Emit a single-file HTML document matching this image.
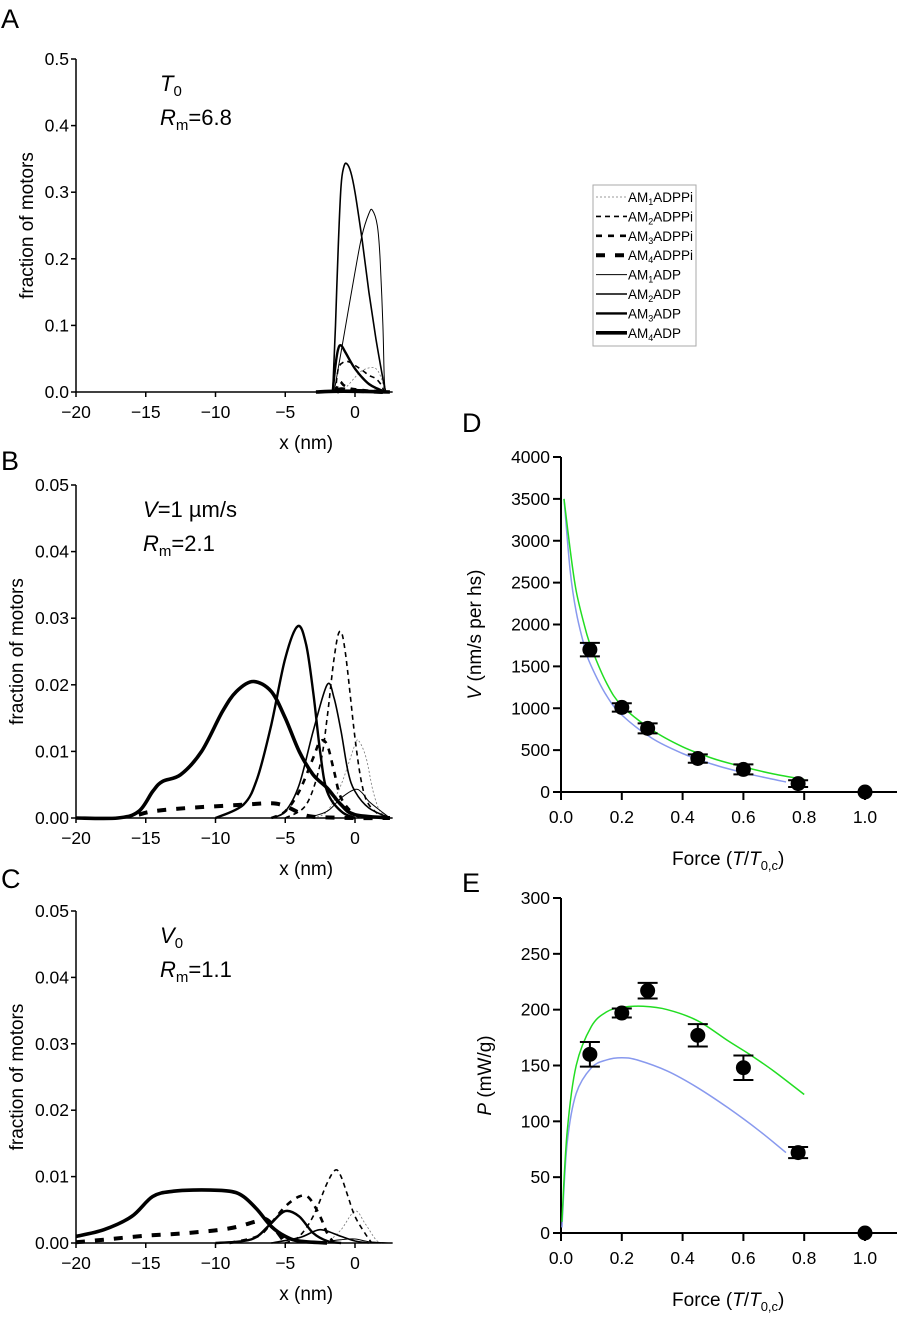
<!DOCTYPE html>
<html><head><meta charset="utf-8">
<style>
html,body{margin:0;padding:0;background:#fff;}
svg{display:block;font-family:"Liberation Sans",sans-serif;}
</style></head>
<body>
<svg id="fig" width="899" height="1318" viewBox="0 0 899 1318" xmlns="http://www.w3.org/2000/svg">
<g id="root"></g>
</svg>
<script>
// ---------- data: distribution panels (x in nm, y fraction) ----------
const seriesNames = ["AM1ADPPi","AM2ADPPi","AM3ADPPi","AM4ADPPi","AM1ADP","AM2ADP","AM3ADP","AM4ADP"];
const aSeries = [
 [[-1,0],[-0.5,0.01],[0,0.022],[0.5,0.032],[1.2,0.037],[1.6,0.033],[1.9,0.02],[2.1,0.005],[2.2,0]],
 [[-1.4,0],[-1.2,0.035],[-0.8,0.045],[-0.4,0.045],[0,0.04],[0.5,0.033],[1,0.025],[1.5,0.02],[1.9,0.01],[2.1,0]],
 [[-1.4,0],[-1.1,0.015],[-0.8,0.01],[-0.3,0.005],[0.5,0.003],[2,0]],
 [[-1.3,0],[-1,0.004],[0,0.002],[1,0.001],[2,0]],
 [[-1.5,0],[-1,0.06],[-0.5,0.12],[0,0.18],[0.5,0.235],[1,0.268],[1.25,0.273],[1.6,0.25],[1.8,0.2],[2.0,0.1],[2.1,0.02],[2.2,0]],
 [[-1.6,0],[-1.4,0.1],[-1.2,0.22],[-1,0.31],[-0.8,0.338],[-0.6,0.343],[-0.3,0.33],[0,0.3],[0.5,0.23],[1,0.15],[1.5,0.08],[2,0.02],[2.2,0]],
 [[-1.6,0],[-1.4,0.04],[-1.2,0.065],[-1,0.07],[-0.7,0.06],[-0.3,0.045],[0,0.035],[0.5,0.022],[1,0.012],[1.5,0.006],[2.2,0]],
 [[-2.8,0],[-1.5,0.001],[0,0.001],[2.5,0]]
];
const bSeries = [
 [[-3,0],[-2,0.001],[-1,0.005],[0,0.011],[0.3,0.0115],[0.8,0.009],[1.3,0.004],[1.8,0.001],[2.5,0]],
 [[-5,0],[-3.5,0.002],[-2.5,0.008],[-2,0.015],[-1.5,0.024],[-1.1,0.028],[-0.7,0.025],[0,0.012],[0.5,0.005],[1,0.002],[2,0]],
 [[-6,0],[-5,0.001],[-4,0.004],[-3,0.009],[-2.5,0.0115],[-2,0.011],[-1.5,0.007],[-1,0.003],[0,0.0005],[1,0]],
 [[-15.5,0.0005],[-14.5,0.001],[-12,0.0015],[-8,0.002],[-6,0.0022],[-5,0.0018],[-4,0.0008],[-3,0.0002],[0,0],[2.5,0]],
 [[-3.5,0],[-2,0.001],[-1,0.003],[0,0.0043],[0.5,0.0038],[1,0.0025],[2,0.0008],[2.5,0]],
 [[-6,0],[-5,0.001],[-4,0.005],[-3,0.013],[-2,0.02],[-1.5,0.018],[-1,0.013],[-0.5,0.007],[0,0.004],[1,0.0015],[2.5,0]],
 [[-10,0],[-8,0.002],[-7,0.006],[-6,0.014],[-5,0.024],[-4.1,0.0288],[-3.5,0.026],[-3,0.019],[-2.5,0.01],[-2,0.004],[-1,0.001],[0,0]],
 [[-20,0],[-17,0],[-15.5,0.001],[-14.5,0.004],[-13.8,0.0055],[-12.5,0.0065],[-11,0.01],[-9.5,0.016],[-8.5,0.019],[-7.3,0.0205],[-6,0.019],[-5,0.015],[-4,0.01],[-3,0.0065],[-2,0.0045],[-1,0.002],[0,0.0005],[2.5,0]]
];
const cSeries = [
 [[-2,0],[-1,0.002],[0,0.0048],[0.7,0.003],[1.5,0.0005],[2,0]],
 [[-5,0],[-4,0.001],[-3,0.004],[-2,0.009],[-1.4,0.011],[-1,0.01],[-0.5,0.007],[0,0.004],[0.7,0.0015],[1.2,0]],
 [[-9,0],[-7,0.001],[-6,0.003],[-5,0.0055],[-4,0.007],[-3.3,0.0068],[-2.5,0.004],[-2,0.0015],[-1.5,0]],
 [[-20,0.0001],[-18,0.0005],[-15,0.0011],[-12,0.0015],[-9,0.0022],[-7,0.0033],[-6.3,0.0035],[-5.5,0.0015],[-5,0]],
 [[-3,0],[-1,0.0005],[0,0.0006],[1,0.0002],[2.5,0]],
 [[-6,0],[-4,0.0008],[-3,0.0017],[-2.5,0.002],[-2,0.0018],[-1,0.001],[0,0.0003],[1,0]],
 [[-10,0],[-8,0.0003],[-7,0.001],[-6,0.003],[-5,0.0048],[-4,0.004],[-3,0.0015],[-2,0.0003],[-1,0]],
 [[-20,0.001],[-18,0.002],[-16,0.004],[-14.5,0.007],[-13,0.0078],[-11,0.008],[-9,0.0078],[-8,0.007],[-7,0.005],[-6,0.0025],[-5,0.001],[-4,0.0003],[-2,0]]
];
// ---------- data: D & E ----------
const forceVals = [0.095,0.2,0.285,0.45,0.6,0.78,1.0];
const velVals = [1700,1010,760,400,270,100,0];
const velErr = [80,50,60,50,60,40,0];
const powVals = [160,197,217,177,148,72,0];
const powErr = [11,4,7,10,11,5,0];
const vGreenF = [0.01,0.03,0.05,0.08,0.1,0.15,0.2,0.3,0.4,0.5,0.6,0.7,0.8];
const vGreen = [3500,2900,2400,1950,1720,1300,1030,740,540,400,300,215,150];
const vBlueF = [0.01,0.03,0.05,0.08,0.1,0.15,0.2,0.3,0.4,0.5,0.6,0.7,0.74];
const vBlue = [3500,2650,2150,1700,1500,1150,920,640,460,330,230,150,120];
const pGreenF = [0.003,0.02,0.05,0.1,0.15,0.2,0.27,0.35,0.45,0.55,0.62,0.7,0.8];
const pGreen = [10,90,150,185,198,202,203,200,190,172,160,145,124];
const pBlueF = [0.003,0.02,0.05,0.1,0.15,0.2,0.25,0.35,0.45,0.55,0.65,0.74];
const pBlue = [5,80,125,148,155,157,155,145,130,112,92,72];

const NS="http://www.w3.org/2000/svg";
const root=document.getElementById('root');
function el(tag,attrs,parent){const e=document.createElementNS(NS,tag);for(const k in attrs)e.setAttribute(k,attrs[k]);(parent||root).appendChild(e);return e;}
function txt(x,y,s,attrs,parent){const t=el('text',Object.assign({x:x,y:y},attrs||{}),parent);t.innerHTML=s;return t;}
function smooth(pts){
  let d='M'+pts[0][0].toFixed(1)+','+pts[0][1].toFixed(1);
  for(let i=0;i<pts.length-1;i++){
    const p0=pts[i-1]||pts[i],p1=pts[i],p2=pts[i+1],p3=pts[i+2]||p2;
    const c1=[p1[0]+(p2[0]-p0[0])/6,p1[1]+(p2[1]-p0[1])/6];
    const c2=[p2[0]-(p3[0]-p1[0])/6,p2[1]-(p3[1]-p1[1])/6];
    d+='C'+c1.map(v=>v.toFixed(1))+' '+c2.map(v=>v.toFixed(1))+' '+p2[0].toFixed(1)+','+p2[1].toFixed(1);
  }
  return d;
}
const styles=[
 {w:0.8,dash:'2,2',c:'#777'},
 {w:1.6,dash:'5,4',c:'#000'},
 {w:2.6,dash:'6,6',c:'#000'},
 {w:4,dash:'9,10',c:'#000'},
 {w:1,dash:'',c:'#000'},
 {w:1.6,dash:'',c:'#000'},
 {w:2.4,dash:'',c:'#000'},
 {w:3.6,dash:'',c:'#000'}
];

function distPanel(name,letter,letterY,y0px,y1px,ymax,yTicks,series,label1,label2,titleX,labX){
  const g=el('g',{});
  
  
  const X=x=>76+(x+20)*13.95, Y=y=>y0px-(y/ymax)*(y0px-y1px);
  const lt=txt(1,letterY,letter,{'font-size':'27'},g);
  
  
  const ax=el('path',{d:`M${X(-20)},${y1px}V${y0px}H${X(2.7)}`,stroke:'#000','stroke-width':1.5,fill:'none'},g);
  
  
  yTicks.forEach(v=>{
    el('line',{x1:X(-20)-5,x2:X(-20),y1:Y(v),y2:Y(v),stroke:'#000','stroke-width':1.5},g);
    const t=txt(X(-20)-7,Y(v)+6,v.toFixed(ymax<0.1?2:1),{'font-size':'17.5','text-anchor':'end'},g);
    
    
  });
  [-20,-15,-10,-5,0].forEach(v=>{
    el('line',{x1:X(v),x2:X(v),y1:y0px,y2:y0px+5,stroke:'#000','stroke-width':1.5},g);
    const t=txt(X(v),y0px+26,v<0?'\u2212'+(-v):String(v),{'font-size':'17.5','text-anchor':'middle'},g);
    
    
  });
  const xt=txt(X(-3.5),y0px+57,'x (nm)',{'font-size':'19','text-anchor':'middle'},g);
  
  
  const yt=txt(0,0,'fraction of motors',{'font-size':'19','text-anchor':'middle',transform:`translate(${titleX},${(y0px+y1px)/2}) rotate(-90)`},g);
  
  
  const a1=txt(labX,y1px+32,label1,{'font-size':'22'},g);
  
  
  const a2=txt(labX,y1px+66,label2,{'font-size':'22'},g);
  
  
  series.forEach((s,i)=>{
    const st=styles[i];
    const p=el('path',{d:smooth(s.map(q=>[X(q[0]),Y(Math.max(0,q[1]))])),fill:'none',stroke:st.c,'stroke-width':st.w,'stroke-dasharray':st.dash,'stroke-linejoin':'round'},g);
    
    
  });
}
distPanel('panel-a','A',28,392,59,0.5,[0,0.1,0.2,0.3,0.4,0.5],aSeries,'<tspan font-style="italic">T</tspan><tspan font-size="15" dy="5">0</tspan>','<tspan font-style="italic">R</tspan><tspan font-size="15" dy="5">m</tspan><tspan dy="-5">=6.8</tspan>',33,160);
distPanel('panel-b','B',470,818,485,0.05,[0,0.01,0.02,0.03,0.04,0.05],bSeries,'<tspan font-style="italic">V</tspan>=1 \u00b5m/s','<tspan font-style="italic">R</tspan><tspan font-size="15" dy="5">m</tspan><tspan dy="-5">=2.1</tspan>',23,143);
distPanel('panel-c','C',888,1243,911,0.05,[0,0.01,0.02,0.03,0.04,0.05],cSeries,'<tspan font-style="italic">V</tspan><tspan font-size="15" dy="5">0</tspan>','<tspan font-style="italic">R</tspan><tspan font-size="15" dy="5">m</tspan><tspan dy="-5">=1.1</tspan>',23,160);

// legend
(function(){
  const g=el('g',{});
  
  
  el('rect',{x:593,y:185,width:103,height:161,fill:'#fff',stroke:'#aaa','stroke-width':1},g);
  seriesNames.forEach((n,i)=>{
    const y=197+i*19.4, st=styles[i];
    const e=el('g',{},g);
    
    
    el('line',{x1:596,x2:627,y1:y,y2:y,stroke:st.c,'stroke-width':Math.min(st.w,4),'stroke-dasharray':st.dash},e);
    const m=n.match(/^AM(\d)(.*)$/);
    txt(628,y+5,'AM<tspan font-size="9" dy="3">'+m[1]+'</tspan><tspan dy="-3">'+m[2]+'</tspan>',{'font-size':'13.5'},e);
  });
})();

function forcePanel(name,letter,letterY,y0px,y1px,ymax,yStep,ylabel,titleX,pts,errs,green,greenF,blue,blueF){
  const g=el('g',{});
  
  
  const X=f=>561+f*304, Y=v=>y0px-(v/ymax)*(y0px-y1px);
  const lt=txt(462,letterY,letter,{'font-size':'27'},g);
  
  
  const ax=el('path',{d:`M${X(0)},${y1px}V${y0px}H897`,stroke:'#000','stroke-width':2,fill:'none'},g);
  
  
  for(let v=0;v<=ymax+1e-9;v+=yStep){
    el('line',{x1:X(0)-8,x2:X(0),y1:Y(v),y2:Y(v),stroke:'#000','stroke-width':2},g);
    const t=txt(X(0)-11,Y(v)+6,String(v),{'font-size':'17.5','text-anchor':'end'},g);
    
    
  }
  [0,0.2,0.4,0.6,0.8,1.0].forEach(f=>{
    el('line',{x1:X(f),x2:X(f),y1:y0px,y2:y0px+8,stroke:'#000','stroke-width':2},g);
    const t=txt(X(f),y0px+31,f.toFixed(1),{'font-size':'17.5','text-anchor':'middle'},g);
    
    
  });
  const xt=txt(X(0.55),y0px+73,'Force (<tspan font-style="italic">T</tspan>/<tspan font-style="italic">T</tspan><tspan font-size="13" dy="5">0,c</tspan><tspan dy="-5">)</tspan>',{'font-size':'19','text-anchor':'middle'},g);
  
  
  const yt=txt(0,0,ylabel,{'font-size':'19','text-anchor':'middle',transform:`translate(${titleX},${(y0px+y1px)/2+10}) rotate(-90)`},g);
  
  
  const bl=el('path',{d:smooth(blueF.map((f,i)=>[X(f),Y(blue[i])])),fill:'none',stroke:'#8899ee','stroke-width':1.5},g);
  
  
  const gr=el('path',{d:smooth(greenF.map((f,i)=>[X(f),Y(green[i])])),fill:'none',stroke:'#22dd22','stroke-width':1.5},g);
  
  
  forceVals.forEach((f,i)=>{
    const v=pts[i], e=errs[i];
    const pg=el('g',{},g);
    
    
    if(e>0){
      el('path',{d:`M${X(f)},${Y(v-e)}V${Y(v+e)}M${X(f)-10},${Y(v-e)}h20M${X(f)-10},${Y(v+e)}h20`,stroke:'#000','stroke-width':2,fill:'none'},pg);
    }
    el('circle',{cx:X(f),cy:Y(v),r:7.5,fill:'#000'},pg);
  });
}
forcePanel('panel-d','D',432,792,457,4000,500,'<tspan font-style="italic">V</tspan> (nm/s per hs)',481,velVals,velErr,vGreen,vGreenF,vBlue,vBlueF);
forcePanel('panel-e','E',892,1233,898,300,50,'<tspan font-style="italic">P</tspan> (mW/g)',491,powVals,powErr,pGreen,pGreenF,pBlue,pBlueF);
</script>
</body></html>
